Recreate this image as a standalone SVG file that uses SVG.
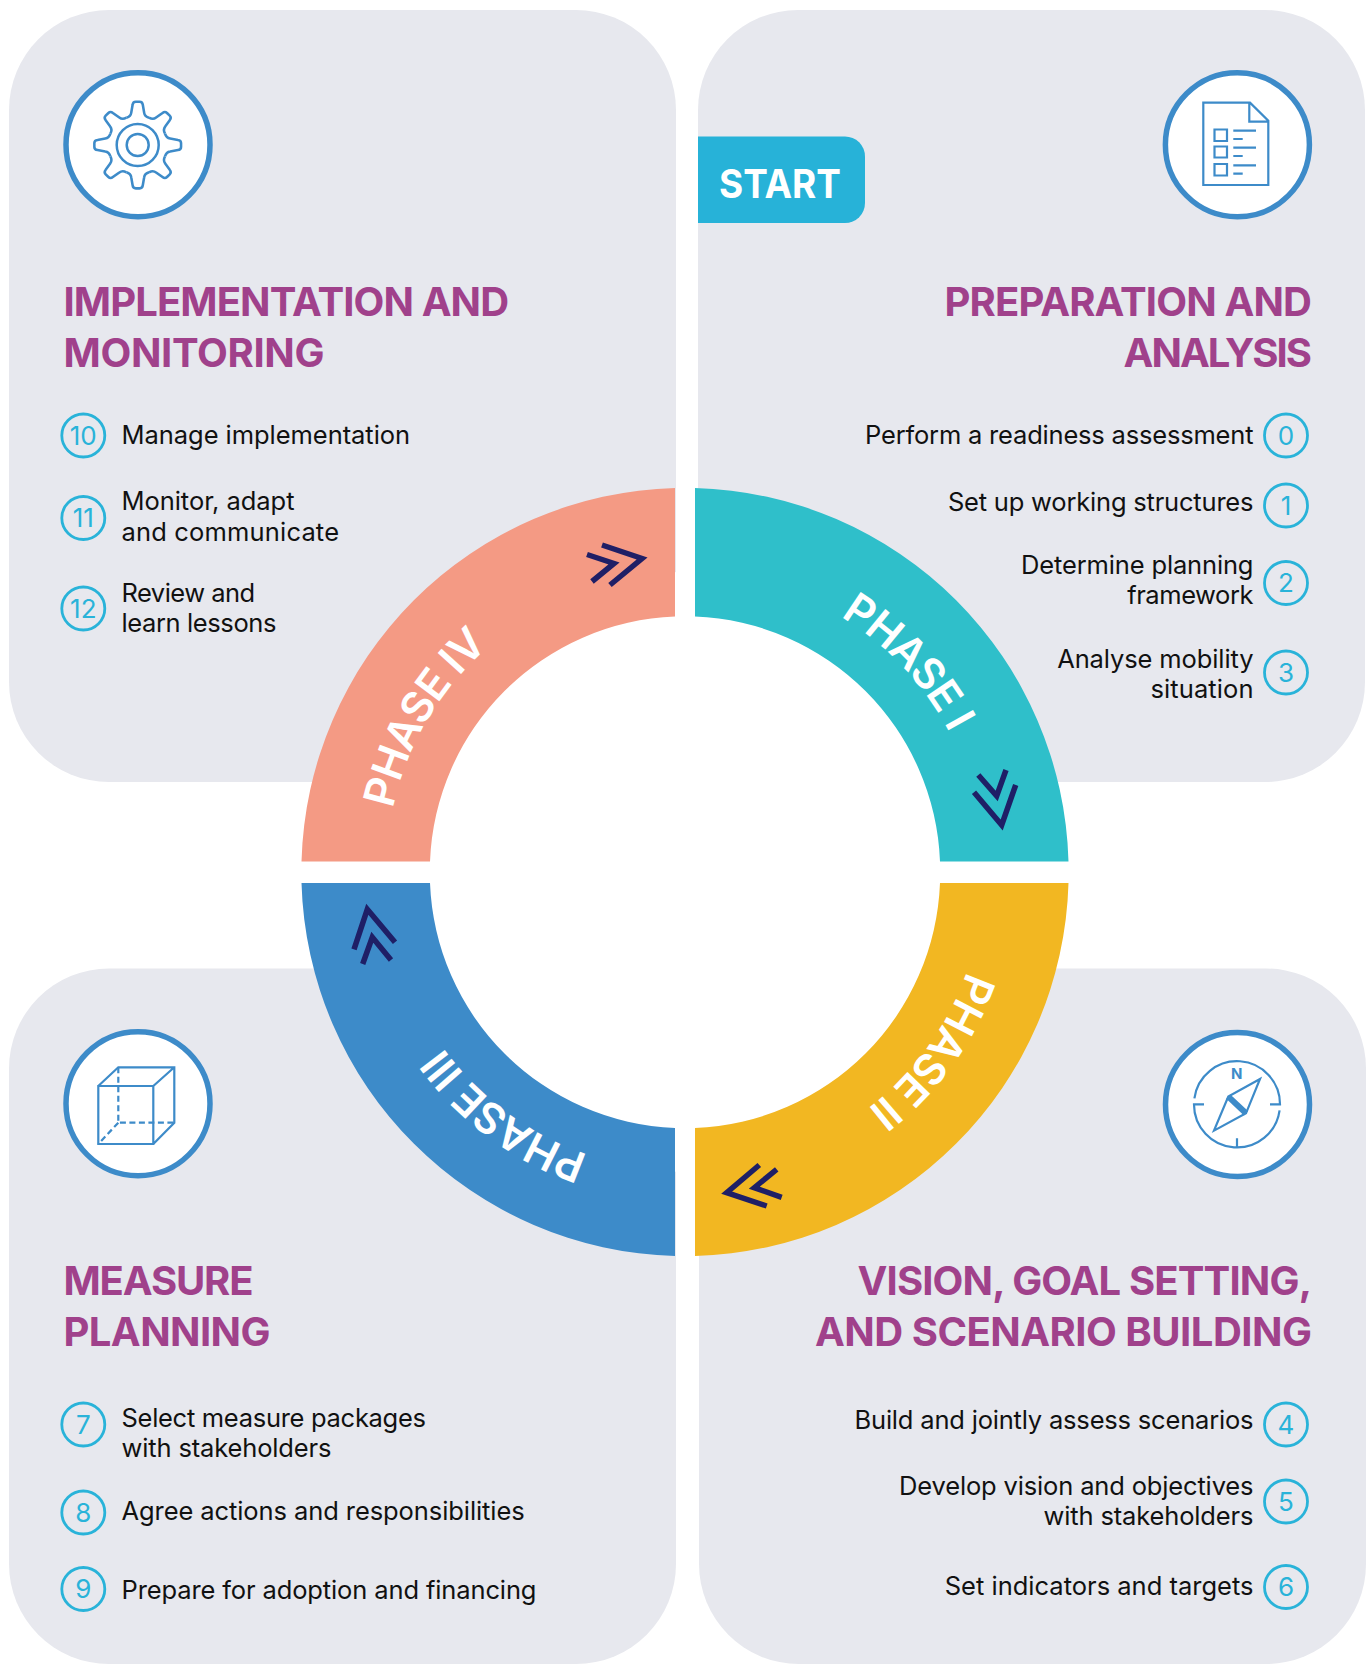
<svg xmlns="http://www.w3.org/2000/svg" xmlns:xlink="http://www.w3.org/1999/xlink" width="1372" height="1664" viewBox="0 0 1372 1664">
<style>
.panel{fill:#e7e8ee}
.head{font:700 40px Inter,"Liberation Sans",sans-serif;fill:#a0418b}
.body{font:400 25.5px Inter,"Liberation Sans",sans-serif;fill:#111}
.end{text-anchor:end}
.num{fill:none;stroke:#29b3d9;stroke-width:2.8}
.numt{font:400 26px Inter,"Liberation Sans",sans-serif;fill:#29b3d9;text-anchor:middle}
.ic{fill:#fff;stroke:#3d8bc9;stroke-width:5.5}
.ln{fill:none;stroke:#3d8bc9;stroke-width:2.2}
.chev{fill:none;stroke:#1f1f66;stroke-width:5.5}
.ph{font:600 43px Inter,"Liberation Sans",sans-serif;fill:#fff;letter-spacing:-1px;text-anchor:middle}
</style>
<defs>
<path id="a1" d="M719.900 575A299 299 0 0 1 983.500 854.800"/>
<path id="a2" d="M983.200 850.100A299 299 0 0 1 758.300 1161.900"/>
<path id="a3" d="M703.800 1170.400A299 299 0 0 1 394.400 942.300"/>
<path id="a4" d="M390.100 921.300A299 299 0 0 1 585.200 590.200"/>
<path id="tooth" d="M-11.100-26.800Q-6.800-28-6.300-31.800L-5-39.400Q-4.700-42.500-1.900-42.500L1.900-42.500Q4.700-42.500 5-39.400L6.300-31.800Q6.800-28 11.100-26.800"/>
</defs>
<g id="panel-implementation"><rect class="panel" x="9" y="10" width="667" height="772" rx="100"/></g>
<g id="panel-preparation"><rect class="panel" x="698" y="10" width="667" height="772" rx="100"/></g>
<g id="panel-measure"><rect class="panel" x="9" y="968.500" width="667" height="695.500" rx="100"/></g>
<g id="panel-vision"><rect class="panel" x="699" y="968.500" width="667" height="695.500" rx="100"/></g>
<circle id="center" cx="685" cy="872" r="300" fill="#fff"/>

<g id="phase-1"><path fill="#2fbfca" d="M695 488A384 384 0 0 1 1068.500 861.500H940A255 255 0 0 0 695 616.500Z"/>
<text class="ph"><textPath xlink:href="#a1" href="#a1" startOffset="50%">PHASE I</textPath></text>
<path class="chev" d="M974 792.300L1001.700 825L1015.700 785M978.300 775L996.700 796L1006 770"/></g>
<g id="phase-2"><path fill="#f2b722" d="M1068.500 883A384 384 0 0 1 695 1256V1128A255 255 0 0 0 940 883Z"/>
<text class="ph"><textPath xlink:href="#a2" href="#a2" startOffset="50%">PHASE II</textPath></text>
<path class="chev" d="M759.300 1165L726.700 1192.700L766.700 1206M776.700 1169.300L754.300 1187.700L781.700 1197.300"/></g>
<g id="phase-3"><path fill="#3d8bc9" d="M675 1256A384 384 0 0 1 301.500 883H430A255 255 0 0 0 675 1128Z"/>
<text class="ph"><textPath xlink:href="#a3" href="#a3" startOffset="50%">PHASE III</textPath></text>
<path class="chev" d="M354 949.300L367.300 909.300L395 942.300M362.700 964L372.300 937.300L391 960"/></g>
<g id="phase-4"><path fill="#f49a84" d="M301.500 861.500A384 384 0 0 1 675 488V616.500A255 255 0 0 0 430 861.500Z"/>
<text class="ph"><textPath xlink:href="#a4" href="#a4" startOffset="50%">PHASE IV</textPath></text>
<path class="chev" d="M602 545L642 558.500L610 585M587 554.500L614 563.500L592 581.500"/></g>

<g id="start"><path fill="#27b2d8" d="M698 136.500H845A20 20 0 0 1 865 156.500V203A20 20 0 0 1 845 223H698Z"/><text x="719" y="198" textLength="122" lengthAdjust="spacingAndGlyphs" style="font:700 40px Inter,'Liberation Sans',sans-serif;fill:#fff">START</text></g>

<g id="icon-gear"><circle class="ic" cx="138" cy="144.700" r="72"/><circle class="ln" cx="137.700" cy="145" r="21" style="stroke-width:2.5"/><circle class="ln" cx="137.700" cy="145" r="11" style="stroke-width:2.5"/>
<g class="ln" style="stroke-width:2.5" transform="translate(137.700 145) scale(1.02)"><use href="#tooth"/><use href="#tooth" transform="rotate(45)"/><use href="#tooth" transform="rotate(90)"/><use href="#tooth" transform="rotate(135)"/><use href="#tooth" transform="rotate(180)"/><use href="#tooth" transform="rotate(225)"/><use href="#tooth" transform="rotate(270)"/><use href="#tooth" transform="rotate(315)"/></g></g>
<g id="icon-doc"><circle class="ic" cx="1237.400" cy="144.700" r="72"/>
<path class="ln" d="M1203.300 102.700H1250L1268.300 120.700V185H1203.300ZM1249.300 102.700V121.700H1268.300"/>
<path class="ln" d="M1214.500 129.500H1227V141H1214.500ZM1214.500 146.500H1227V157.500H1214.500ZM1214.500 164H1227V175.500H1214.500ZM1233.300 130.700H1256M1233.300 139H1242.700M1233.300 147.700H1256M1233.300 156H1242.700M1233.300 165.300H1256M1233.300 173.700H1242.700"/></g>
<g id="icon-cube"><circle class="ic" cx="138" cy="1103.700" r="72"/>
<path class="ln" d="M98.300 1086H153.300V1144H98.300ZM98.300 1086L118.300 1067.300H174.300V1122.700L153.300 1144M153.300 1086L174.300 1067.300"/>
<path class="ln" stroke-dasharray="6 3.500" d="M118.300 1067.300V1122.700H174.300M118.300 1122.700L98.300 1144"/></g>
<g id="icon-compass"><circle class="ic" cx="1237.500" cy="1104.500" r="72"/>
<g class="ln" transform="translate(1237 1104.300)"><path d="M-42.600-6A43 43 0 0 1 43 0H33M42.600 6A43 43 0 0 1-43 0H-33M0 34V43M23-25.300L-8.700-7.700L-23 26.300L9 9Z"/><path d="M-8.700-7.700L9 9" stroke-width="6"/></g>
<text x="1236.700" y="1079.300" text-anchor="middle" style="font:700 15px Inter,'Liberation Sans',sans-serif;fill:#3d8bc9">N</text></g>

<g id="text-implementation">
<text class="head" x="63.500" y="316" textLength="445.600">IMPLEMENTATION AND</text><text class="head" x="63.500" y="367" textLength="261">MONITORING</text>
<circle class="num" cx="83.300" cy="435.500" r="21.500"/><text class="numt" x="83.300" y="444.500">10</text>
<circle class="num" cx="83.300" cy="518" r="21.500"/><text class="numt" x="83.300" y="527">11</text>
<circle class="num" cx="83.300" cy="608.500" r="21.500"/><text class="numt" x="83.300" y="617.500">12</text>
<text class="body" x="121.500" y="443.500" textLength="288.600">Manage implementation</text>
<text class="body" x="121.500" y="510" textLength="173">Monitor, adapt</text><text class="body" x="121.500" y="541" textLength="217.500">and communicate</text>
<text class="body" x="121.500" y="602" textLength="133.700">Review and</text><text class="body" x="121.500" y="632" textLength="155">learn lessons</text>
</g>
<g id="text-preparation">
<text class="head" x="944.500" y="316" textLength="367.500">PREPARATION AND</text><text class="head" x="1123.500" y="367" textLength="188.500">ANALYSIS</text>
<circle class="num" cx="1286" cy="435.500" r="21.500"/><text class="numt" x="1286" y="444.500">0</text>
<circle class="num" cx="1286" cy="505.500" r="21.500"/><text class="numt" x="1286" y="514.500">1</text>
<circle class="num" cx="1286" cy="583" r="21.500"/><text class="numt" x="1286" y="592">2</text>
<circle class="num" cx="1286" cy="672.500" r="21.500"/><text class="numt" x="1286" y="681.500">3</text>
<text class="body" x="865.100" y="443.500" textLength="388.400">Perform a readiness assessment</text>
<text class="body" x="947.900" y="511" textLength="305.600">Set up working structures</text>
<text class="body" x="1021.100" y="574" textLength="232.400">Determine planning</text><text class="body" x="1127.200" y="604" textLength="126.300">framework</text>
<text class="body" x="1057.200" y="668" textLength="196.300">Analyse mobility</text><text class="body" x="1150.500" y="698" textLength="103">situation</text>
</g>
<g id="text-measure">
<text class="head" x="63.500" y="1295" textLength="190">MEASURE</text><text class="head" x="63.500" y="1346" textLength="207">PLANNING</text>
<circle class="num" cx="83.300" cy="1424.500" r="21.500"/><text class="numt" x="83.300" y="1433.500">7</text>
<circle class="num" cx="83.300" cy="1512.500" r="21.500"/><text class="numt" x="83.300" y="1521.500">8</text>
<circle class="num" cx="83.300" cy="1589" r="21.500"/><text class="numt" x="83.300" y="1598">9</text>
<text class="body" x="121.500" y="1427" textLength="304.500">Select measure packages</text><text class="body" x="121.500" y="1457" textLength="210">with stakeholders</text>
<text class="body" x="121.500" y="1520" textLength="403.200">Agree actions and responsibilities</text>
<text class="body" x="121.500" y="1599" textLength="415">Prepare for adoption and financing</text>
</g>
<g id="text-vision">
<text class="head" x="857.500" y="1295" textLength="454.500">VISION, GOAL SETTING,</text><text class="head" x="815" y="1346" textLength="497">AND SCENARIO BUILDING</text>
<circle class="num" cx="1286" cy="1424.500" r="21.500"/><text class="numt" x="1286" y="1433.500">4</text>
<circle class="num" cx="1286" cy="1501.500" r="21.500"/><text class="numt" x="1286" y="1510.500">5</text>
<circle class="num" cx="1286" cy="1587" r="21.500"/><text class="numt" x="1286" y="1596">6</text>
<text class="body" x="854.500" y="1429" textLength="399">Build and jointly assess scenarios</text>
<text class="body" x="899.100" y="1495" textLength="354.400">Develop vision and objectives</text><text class="body" x="1043.500" y="1525" textLength="210">with stakeholders</text>
<text class="body" x="944.700" y="1595" textLength="308.800">Set indicators and targets</text>
</g>
</svg>
